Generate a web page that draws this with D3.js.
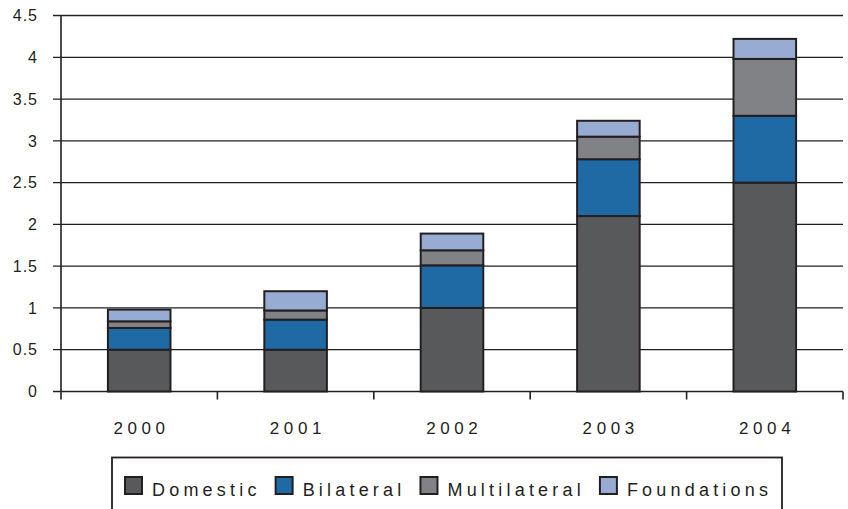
<!DOCTYPE html>
<html>
<head>
<meta charset="utf-8">
<script src="https://cdn.jsdelivr.net/npm/d3@7"></script>
<style>
  html, body { margin: 0; padding: 0; background: #fff; }
  svg { display: block; font-family: "Liberation Sans", Arial, sans-serif; }
</style>
</head>
<body>
<svg id="chart" width="848" height="509"></svg>
<script>
// Funding by source and year (billions)
const years = ["2000", "2001", "2002", "2003", "2004"];
const seriesNames = ["Domestic", "Bilateral", "Multilateral", "Foundations"];
const domestic     = [0.50, 0.50, 1.00, 2.10, 2.50];
const bilateral    = [0.26, 0.36, 0.51, 0.68, 0.80];
const multilateral = [0.08, 0.11, 0.18, 0.27, 0.68];
const foundations  = [0.14, 0.23, 0.20, 0.19, 0.24];
const yTicks = [0, 0.5, 1, 1.5, 2, 2.5, 3, 3.5, 4, 4.5];

const colors = ["#58595b", "#1f69a5", "#808285", "#98abd3"];
const ink = "#231f20";

const rows = years.map((yr, i) => ({
  year: yr,
  Domestic: domestic[i],
  Bilateral: bilateral[i],
  Multilateral: multilateral[i],
  Foundations: foundations[i]
}));
const stacked = d3.stack().keys(seriesNames)(rows);

const svg = d3.select("#chart");
const plotLeft = 61, plotRight = 843, plotTop = 15.5, plotBottom = 391.5;

const x = d3.scaleBand().domain(years).range([plotLeft, plotRight]).padding(0);
const y = d3.scaleLinear().domain([0, 4.5]).range([plotBottom, plotTop]);
const barW = x.bandwidth() * 0.4;

// horizontal gridlines with left tick stubs
const yAxis = svg.append("g");
yAxis.selectAll("line.grid").data(yTicks).join("line")
  .attr("class", "grid")
  .attr("x1", plotLeft - 8).attr("x2", plotRight)
  .attr("y1", d => y(d)).attr("y2", d => y(d))
  .attr("stroke", ink).attr("stroke-width", 1.3);
yAxis.selectAll("text").data(yTicks).join("text")
  .attr("x", 38).attr("y", d => y(d)).attr("dy", "0.36em")
  .attr("text-anchor", "end")
  .attr("font-size", 16).attr("letter-spacing", 1)
  .attr("fill", ink)
  .text(d => d);

// stacked bars
svg.append("g").selectAll("g").data(stacked).join("g")
  .attr("fill", (d, i) => colors[i])
  .selectAll("rect").data(d => d).join("rect")
  .attr("x", d => x(d.data.year) + (x.bandwidth() - barW) / 2)
  .attr("width", barW)
  .attr("y", d => y(d[1]))
  .attr("height", d => y(d[0]) - y(d[1]))
  .attr("stroke", ink).attr("stroke-width", 2);

// axis lines and category boundary ticks
svg.append("line")
  .attr("x1", plotLeft).attr("x2", plotLeft)
  .attr("y1", plotTop).attr("y2", plotBottom + 8)
  .attr("stroke", ink).attr("stroke-width", 1.6);
const bounds = years.map(d => x(d)).concat([plotRight]);
svg.append("g").selectAll("line").data(bounds.slice(1)).join("line")
  .attr("x1", d => d).attr("x2", d => d)
  .attr("y1", plotBottom).attr("y2", plotBottom + 8)
  .attr("stroke", ink).attr("stroke-width", 1.6);

// category labels
svg.append("g").selectAll("text").data(years).join("text")
  .attr("x", d => x(d) + x.bandwidth() / 2 + 2.3)
  .attr("y", 434)
  .attr("text-anchor", "middle")
  .attr("font-size", 17).attr("letter-spacing", 4.6)
  .attr("fill", ink)
  .text(d => d);

// legend
const legend = svg.append("g");
legend.append("rect")
  .attr("x", 112).attr("y", 457.5)
  .attr("width", 670).attr("height", 70)
  .attr("fill", "none").attr("stroke", ink).attr("stroke-width", 1.8);
let lx = 125;
seriesNames.forEach((name, i) => {
  legend.append("rect")
    .attr("x", lx).attr("y", 477)
    .attr("width", 17).attr("height", 17)
    .attr("fill", colors[i]).attr("stroke", ink).attr("stroke-width", 2);
  const t = legend.append("text")
    .attr("x", lx + 27).attr("y", 496)
    .attr("font-size", 18).attr("letter-spacing", 4.2)
    .attr("fill", ink)
    .text(name);
  lx += 27 + t.node().getComputedTextLength() + 15;
});
</script>
</body>
</html>
